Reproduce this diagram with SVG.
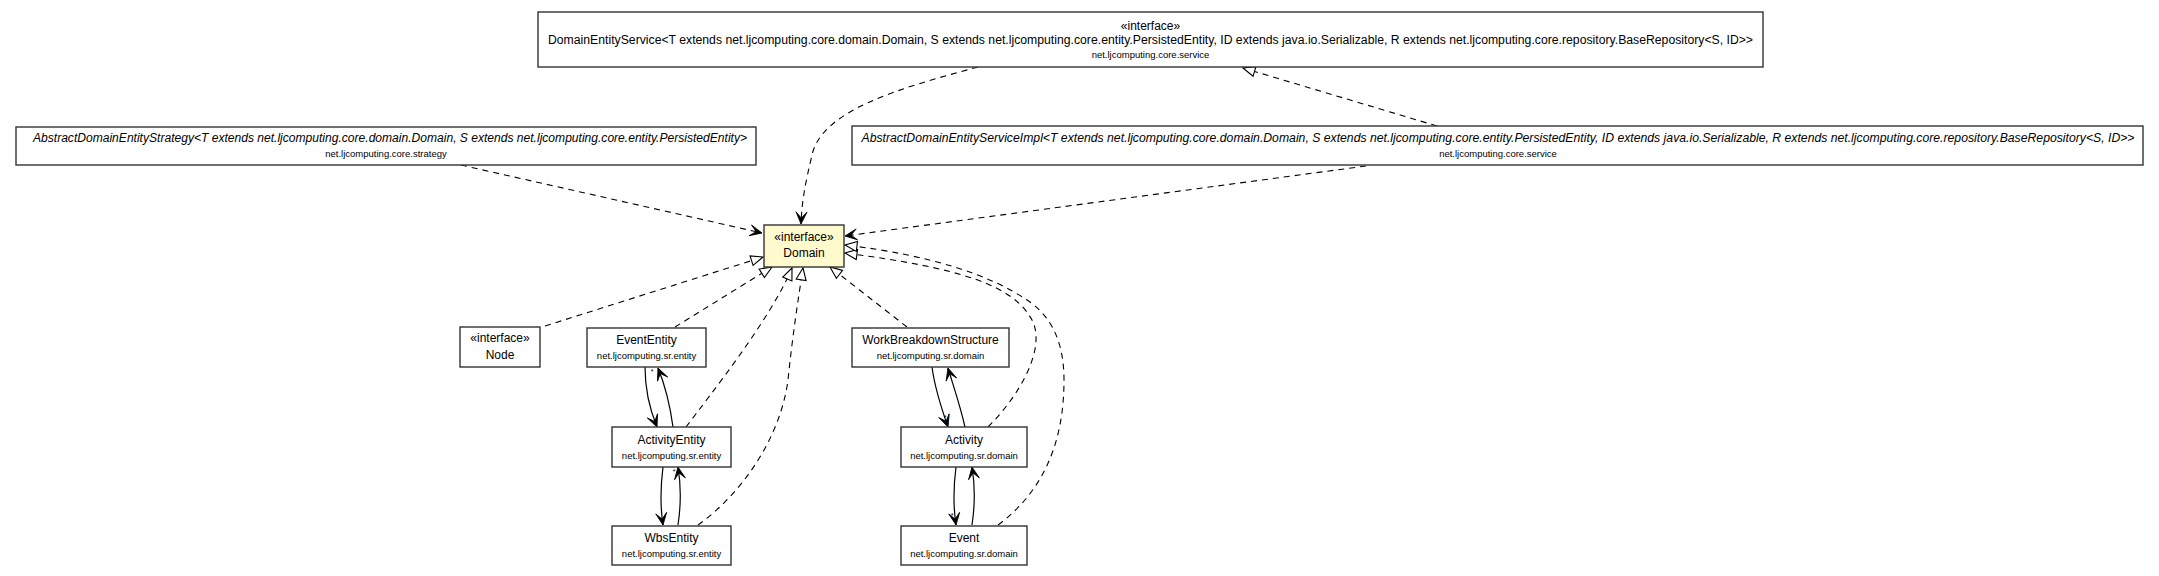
<svg xmlns="http://www.w3.org/2000/svg" width="2159" height="576" viewBox="0 0 2159 576">
<style>
.box{fill:#ffffff;stroke:#333333;stroke-width:1.4}
.iface{fill:#fffacd;stroke:#333333;stroke-width:1.4}
text{font-family:"Liberation Sans",Arial,Helvetica,sans-serif;fill:#000000;text-anchor:middle}
.nm{font-size:12px}
.it{font-style:italic}
.pk{font-size:9.5px}
.mul{font-size:7px}
.dep{fill:none;stroke:#000000;stroke-width:1.1;stroke-dasharray:6,5;marker-end:url(#vee)}
.real{fill:none;stroke:#000000;stroke-width:1.1;stroke-dasharray:6,5;marker-end:url(#tri)}
.assoc{fill:none;stroke:#000000;stroke-width:1.2;marker-end:url(#vee)}
</style>
<defs>
<marker id="vee" markerUnits="userSpaceOnUse" orient="auto" markerWidth="16" markerHeight="14" refX="13" refY="6" viewBox="0 0 16 14" overflow="visible">
<path d="M13,6 L1,0.5 L7,6 L1,11.5 Z" fill="#000000" stroke="#000000" stroke-width="0.8" stroke-linejoin="miter"/>
</marker>
<marker id="tri" markerUnits="userSpaceOnUse" orient="auto" markerWidth="16" markerHeight="14" refX="13" refY="6" viewBox="0 0 16 14" overflow="visible">
<path d="M13,6 L1,1 L1,11 Z" fill="#ffffff" stroke="#000000" stroke-width="1.1"/>
</marker>
</defs>
<rect x="0" y="0" width="2159" height="576" fill="#ffffff"/>

<g id="edges">
<path class="dep" d="M978,67 C900,88 822,110 812,155 C805,185 802,200 801,224"/>
<path class="real" d="M1437,126 L1243,68"/>
<path class="dep" d="M1366,166 L845,236"/>
<path class="dep" d="M461,165 L762,233"/>
<path class="real" d="M545,326 L763,257"/>
<path class="real" d="M675,327 L772,267"/>
<path class="real" d="M686,427 C710,395 770,320 792,268"/>
<path class="real" d="M698,525 C740,495 780,440 788,380 C792,340 798,300 803,268"/>
<path class="real" d="M907,327 L830,267"/>
<path class="real" d="M988,427 C1020,395 1045,350 1033,322 C1015,285 960,268 845,253"/>
<path class="real" d="M998,525 C1045,490 1064,440 1064,380 C1064,340 1050,315 1027,300 C990,275 930,255 845,245"/>
<path class="assoc" d="M645,367 C645,390 650,410 657,427"/>
<path class="assoc" d="M673,427 C670,405 665,385 658,368"/>
<path class="assoc" d="M663,467 C660,490 660,505 663,525"/>
<path class="assoc" d="M678,525 C681,505 681,485 678,467"/>
<path class="assoc" d="M932,367 C935,390 942,410 948,427"/>
<path class="assoc" d="M965,427 C960,405 953,385 948,368"/>
<path class="assoc" d="M956,467 C953,490 953,505 956,525"/>
<path class="assoc" d="M972,525 C975,505 975,485 972,467"/>
<text class="mul" x="652" y="374">*</text>
<text class="mul" x="674" y="474">*</text>
<text class="mul" x="945" y="420">*</text>
<text class="mul" x="952" y="518">*</text>
</g>

<g id="DomainEntityService">
<rect class="box" x="538" y="12" width="1225" height="55"/>
<text class="nm" x="1150.5" y="30">«interface»</text>
<text class="nm" x="1150.5" y="44" textLength="1205" lengthAdjust="spacingAndGlyphs">DomainEntityService&lt;T extends net.ljcomputing.core.domain.Domain, S extends net.ljcomputing.core.entity.PersistedEntity, ID extends java.io.Serializable, R extends net.ljcomputing.core.repository.BaseRepository&lt;S, ID&gt;&gt;</text>
<text class="pk" x="1150.5" y="57.5">net.ljcomputing.core.service</text>
</g>

<g id="AbstractDomainEntityStrategy">
<rect class="box" x="16" y="127" width="740" height="38"/>
<text class="nm it" x="390" y="142" textLength="714" lengthAdjust="spacingAndGlyphs">AbstractDomainEntityStrategy&lt;T extends net.ljcomputing.core.domain.Domain, S extends net.ljcomputing.core.entity.PersistedEntity&gt;</text>
<text class="pk" x="386" y="157">net.ljcomputing.core.strategy</text>
</g>

<g id="AbstractDomainEntityServiceImpl">
<rect class="box" x="852" y="126" width="1291" height="39"/>
<text class="nm it" x="1498" y="142" textLength="1273" lengthAdjust="spacingAndGlyphs">AbstractDomainEntityServiceImpl&lt;T extends net.ljcomputing.core.domain.Domain, S extends net.ljcomputing.core.entity.PersistedEntity, ID extends java.io.Serializable, R extends net.ljcomputing.core.repository.BaseRepository&lt;S, ID&gt;&gt;</text>
<text class="pk" x="1498" y="157">net.ljcomputing.core.service</text>
</g>

<g id="Domain">
<rect class="iface" x="764" y="225" width="80" height="42"/>
<text class="nm" x="804" y="241">«interface»</text>
<text class="nm" x="804" y="257">Domain</text>
</g>

<g id="Node">
<rect class="box" x="460" y="327" width="80" height="40"/>
<text class="nm" x="500" y="342">«interface»</text>
<text class="nm" x="500" y="359">Node</text>
</g>

<g id="EventEntity">
<rect class="box" x="587" y="328" width="119" height="39"/>
<text class="nm" x="646.5" y="344">EventEntity</text>
<text class="pk" x="646.5" y="358.5">net.ljcomputing.sr.entity</text>
</g>

<g id="ActivityEntity">
<rect class="box" x="612" y="427" width="119" height="40"/>
<text class="nm" x="671.5" y="444">ActivityEntity</text>
<text class="pk" x="671.5" y="458.5">net.ljcomputing.sr.entity</text>
</g>

<g id="WbsEntity">
<rect class="box" x="612" y="526" width="119" height="39"/>
<text class="nm" x="671.5" y="542">WbsEntity</text>
<text class="pk" x="671.5" y="557">net.ljcomputing.sr.entity</text>
</g>

<g id="WorkBreakdownStructure">
<rect class="box" x="852" y="328" width="157" height="39"/>
<text class="nm" x="930.5" y="344">WorkBreakdownStructure</text>
<text class="pk" x="930.5" y="358.5">net.ljcomputing.sr.domain</text>
</g>

<g id="Activity">
<rect class="box" x="901" y="427" width="126" height="40"/>
<text class="nm" x="964" y="444">Activity</text>
<text class="pk" x="964" y="458.5">net.ljcomputing.sr.domain</text>
</g>

<g id="Event">
<rect class="box" x="901" y="526" width="126" height="39"/>
<text class="nm" x="964" y="542">Event</text>
<text class="pk" x="964" y="557">net.ljcomputing.sr.domain</text>
</g>
</svg>
